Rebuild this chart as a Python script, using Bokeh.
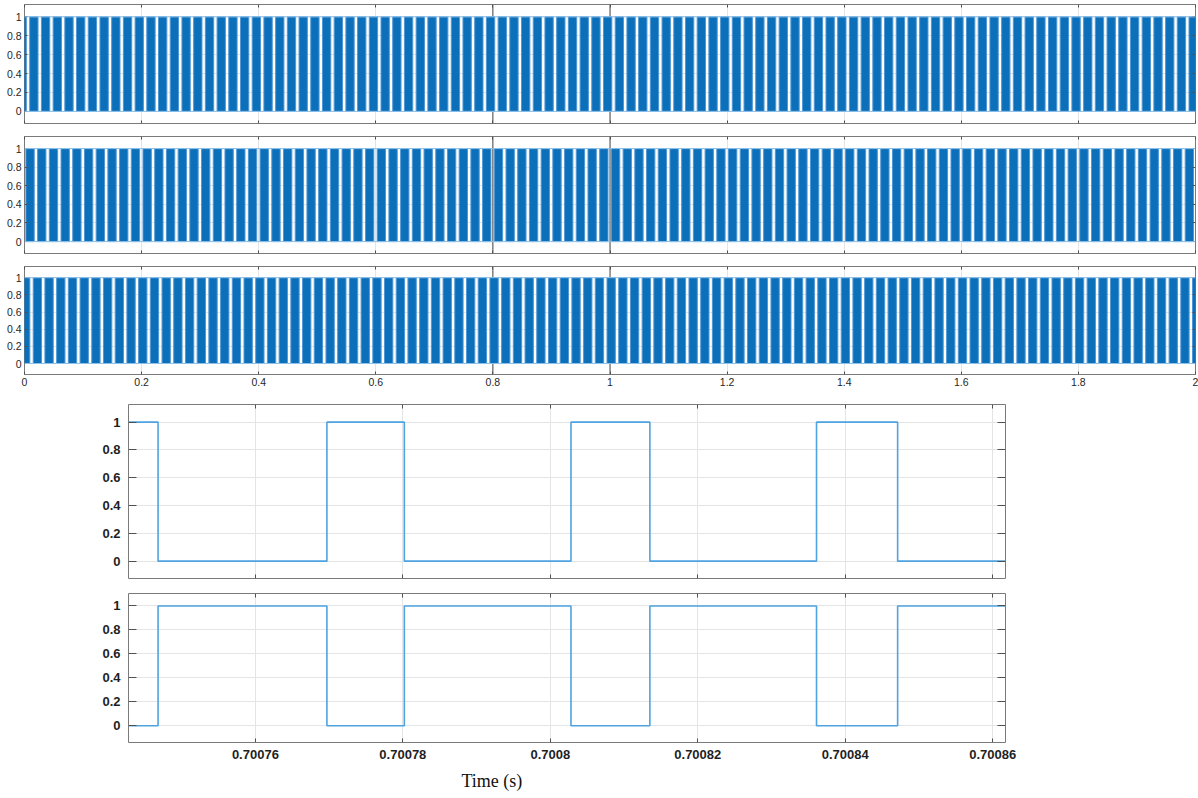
from bokeh.plotting import figure
from bokeh.models import Range1d, FixedTicker, LinearAxis, Title, Span, ColumnDataSource
from bokeh.layouts import column
from bokeh.embed import file_html
from bokeh.resources import INLINE

# ---------------- data ----------------
# top three scopes: visible pulse blocks (nominal centres in s), 0..2 s
bar_centers_s = [
    0.00, 0.02, 0.04, 0.06, 0.08, 0.10, 0.12, 0.14, 0.16, 0.18,
    0.20, 0.22, 0.24, 0.26, 0.28, 0.30, 0.32, 0.34, 0.36, 0.38,
    0.40, 0.42, 0.44, 0.46, 0.48, 0.50, 0.52, 0.54, 0.56, 0.58,
    0.60, 0.62, 0.64, 0.66, 0.68, 0.70, 0.72, 0.74, 0.76, 0.78,
    0.80, 0.82, 0.84, 0.86, 0.88, 0.90, 0.92, 0.94, 0.96, 0.98,
    1.00, 1.02, 1.04, 1.06, 1.08, 1.10, 1.12, 1.14, 1.16, 1.18,
    1.20, 1.22, 1.24, 1.26, 1.28, 1.30, 1.32, 1.34, 1.36, 1.38,
    1.40, 1.42, 1.44, 1.46, 1.48, 1.50, 1.52, 1.54, 1.56, 1.58,
    1.60, 1.62, 1.64, 1.66, 1.68, 1.70, 1.72, 1.74, 1.76, 1.78,
    1.80, 1.82, 1.84, 1.86, 1.88, 1.90, 1.92, 1.94, 1.96, 1.98,
    2.00, 2.02,
]
# phase of the pulse blocks in each of the three scopes (s)
panel_shift_s = [-0.004, 0.0095, 0.002]
bar_width_s = 0.0142
bar_low = 0.0
bar_high = 1.0
cursor_times_s = [0.8, 1.0]

top_x_ticks = [0, 0.2, 0.4, 0.6, 0.8, 1, 1.2, 1.4, 1.6, 1.8, 2]
top_x_labels = ["0", "0.2", "0.4", "0.6", "0.8", "1", "1.2", "1.4", "1.6", "1.8", "2"]
y_ticks = [0, 0.2, 0.4, 0.6, 0.8, 1]
y_labels = ["0", "0.2", "0.4", "0.6", "0.8", "1"]

# zoomed scopes
zoom_t = [0.70074279, 0.7007468, 0.7007697, 0.7007802, 0.7008028,
          0.7008135, 0.7008361, 0.7008471, 0.70086173]
gate_a = [1, 0, 1, 0, 1, 0, 1, 0, 0]
gate_b = [0, 1, 0, 1, 0, 1, 0, 1, 1]
zoom_x_ticks = [0.70076, 0.70078, 0.7008, 0.70082, 0.70084, 0.70086]
zoom_x_labels = ["0.70076", "0.70078", "0.7008", "0.70082", "0.70084", "0.70086"]
x_title = "Time (s)"

# ---------------- style ----------------
W = 1198
BAR_FILL = "#0b6fba"
BAR_EDGE = "#4f98d6"
LINE_BLUE = "#4ea3e0"
GRID = "#e4e4e4"
FRAME = "#7a7a7a"
TICK = "#505050"
TXT = "#1f1f1f"
FONT = "Liberation Sans"


def style_axis(ax, ticker, labels, tick_in, show, size, standoff, bold=False):
    ax.ticker = ticker
    ax.axis_line_color = None
    ax.major_tick_in = tick_in
    ax.major_tick_out = 0
    ax.major_tick_line_color = TICK
    ax.minor_tick_line_color = None
    if show:
        ax.major_label_overrides = dict(zip(ticker.ticks, labels))
        ax.major_label_text_font = FONT
        ax.major_label_text_font_size = size
        ax.major_label_text_color = TXT
        ax.major_label_standoff = standoff
        ax.major_label_text_font_style = "bold" if bold else "normal"
    else:
        ax.major_label_text_color = None
        ax.major_label_text_font_size = "1px"
        ax.major_label_standoff = 0


def make_fig(h, xr, yr, left, right, top, bottom, xt, xl, xt_in, yt_in,
             show_x, size, x_standoff, y_standoff, bold=False):
    p = figure(width=W, height=h, x_range=xr, y_range=yr,
               output_backend="svg", toolbar_location=None,
               min_border_left=left, min_border_right=right,
               min_border_top=top, min_border_bottom=bottom)
    if "frame_align" in p.properties():
        p.frame_align = False
    p.outline_line_color = FRAME
    p.outline_line_width = 1
    xtk = FixedTicker(ticks=xt)
    ytk = FixedTicker(ticks=y_ticks)
    style_axis(p.xaxis[0], xtk, xl, xt_in, show_x, size, x_standoff, bold)
    style_axis(p.yaxis[0], ytk, y_labels, yt_in, True, size, y_standoff, bold)
    ax_top = LinearAxis()
    style_axis(ax_top, FixedTicker(ticks=xt), xl, xt_in, False, size, 0)
    ax_right = LinearAxis()
    style_axis(ax_right, FixedTicker(ticks=y_ticks), y_labels, yt_in, False, size, 0)
    p.add_layout(ax_top, "above")
    p.add_layout(ax_right, "right")
    p.xgrid.ticker = xtk
    p.ygrid.ticker = ytk
    p.xgrid.grid_line_color = GRID
    p.ygrid.grid_line_color = GRID
    return p


def top_panel(h, top, bottom, show_x, shift):
    p = make_fig(h, Range1d(0, 2), Range1d(-0.128, 1.13), 24, 3, top, bottom,
                 top_x_ticks, top_x_labels, 3, 3, show_x, "10.5px", 3, 3)
    for c in cursor_times_s:
        p.add_layout(Span(location=c, dimension="height", line_color="#4a4a4a",
                          line_width=1, level="underlay"))
    src = ColumnDataSource(dict(
        left=[c + shift - bar_width_s / 2 for c in bar_centers_s],
        right=[c + shift + bar_width_s / 2 for c in bar_centers_s],
    ))
    p.add_layout(Span(location=bar_low, dimension="width",
                      line_color="#8ec0e8", line_width=1))
    p.add_layout(Span(location=bar_high, dimension="width",
                      line_color="#8ec0e8", line_width=1))
    p.quad(left="left", right="right", bottom=bar_low, top=bar_high, source=src,
           fill_color=BAR_FILL, line_color=BAR_EDGE, line_width=1)
    return p


p1 = top_panel(129, 4, 6, False, panel_shift_s[0])
p2 = top_panel(130, 7, 6, False, panel_shift_s[1])
p3 = top_panel(137, 7, 22, True, panel_shift_s[2])

zr = (zoom_t[0], zoom_t[-1])
p4 = make_fig(189, Range1d(*zr), Range1d(-0.125, 1.127), 128, 193, 8, 7,
              zoom_x_ticks, zoom_x_labels, 4, 8, False, "13px", 4, 8, True)
p4.step(zoom_t, gate_a, mode="after", line_color=LINE_BLUE, line_width=1.6)

p5 = make_fig(213, Range1d(*zr), Range1d(-0.14, 1.104), 128, 193, 8, 54,
              zoom_x_ticks, zoom_x_labels, 4, 8, True, "13px", 7, 8, True)
p5.step(zoom_t, gate_b, mode="after", line_color=LINE_BLUE, line_width=1.6)
p5.add_layout(Title(text=x_title, align="left", offset=333,
                    text_font="Liberation Serif", text_font_size="18px",
                    text_font_style="normal", text_color="#111111",
                    standoff=15), "below")

root = column(p1, p2, p3, p4, p5, spacing=0, margin=(0, 0, 0, 0))

open("out.html", "w").write(file_html(root, INLINE))
